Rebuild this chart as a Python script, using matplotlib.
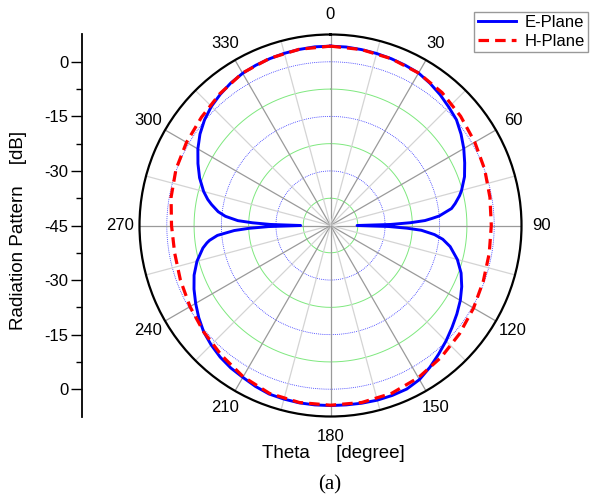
import numpy as np
import matplotlib
matplotlib.use("Agg")
import matplotlib.pyplot as plt

plt.rcParams['font.family'] = ['Liberation Sans', 'DejaVu Sans']

# ---- data, angle in degrees, level in dB ----
e_theta = [0, 5, 10, 15, 20, 25, 30, 35, 40, 45, 50, 55, 60, 65, 70, 75, 77,
           80, 82, 85, 86, 87, 88, 89, 90,
           91, 92, 93, 95, 97, 100, 105, 110, 115, 120, 125, 130, 135, 140,
           145, 150, 155, 160, 165, 170, 175, 180,
           185, 190, 195, 200, 205, 210, 215, 220, 225, 230, 235, 240, 245,
           250, 255, 260, 262, 263, 265, 267, 268, 269, 270,
           271, 272, 273, 275, 277, 280, 282, 285, 290, 295, 300, 305, 310,
           315, 320, 325, 330, 335, 340, 345, 350, 355, 360]
e_db = [4.3, 4.25, 4.1, 3.95, 3.8, 3.6, 3.4, 2.7, 1.9, 1.0, 0.2, -1.2, -2.7,
        -4.3, -5.8, -7.7, -8.6, -10.2, -11.4, -15.0, -17.0, -19.0, -23.0,
        -28.5, -37.7,
        -29.0, -24.0, -20.0, -16.3, -13.9, -11.6, -8.9, -6.8, -5.2, -3.8,
        -2.6, -1.4, -0.1, 1.2, 2.6, 3.9, 4.6, 4.7, 4.7, 4.6, 4.5, 4.5,
        4.5, 4.5, 4.4, 4.3, 3.8, 3.2, 2.8, 2.2, 1.4, 0.5, -0.8, -2.2, -3.6,
        -5.1, -7.0, -9.4, -10.7, -11.5, -13.8, -18.5, -22.5, -28.0, -36.8,
        -28.5, -23.5, -19.5, -16.0, -13.9, -11.8, -10.5, -8.9, -6.7, -4.8,
        -2.9, -1.2, 0.2, 1.3, 2.1, 2.8, 3.3, 3.6, 3.8, 4.0, 4.15, 4.3, 4.3]

h_theta = [0, 10, 20, 30, 40, 50, 60, 70, 80, 90, 100, 110, 120, 130, 140,
           150, 160, 170, 180, 190, 200, 210, 220, 230, 240, 250, 260, 270,
           280, 290, 300, 310, 320, 330, 340, 350, 360]
h_db = [4.3, 4.1, 3.8, 3.4, 2.7, 1.7, 0.8, 0.1, -0.5, -0.8, -0.7, -0.3, 0.4,
        1.3, 2.3, 3.3, 4.1, 4.4, 4.4, 4.4, 4.1, 3.0, 1.6, 0.5, -0.4, -1.1,
        -1.5, -1.3, -0.5, 0.2, 0.7, 1.3, 2.3, 3.4, 3.9, 4.2, 4.3]

theta_labels = [0, 30, 60, 90, 120, 150, 180, 210, 240, 270, 300, 330]
r_min, r_max = -45.0, 7.5
major_rings = [-30, -15, 0]
minor_rings = [-37.5, -22.5, -7.5]
side_ticks = [-45, -30, -15, 0, 15, 30, 45]
side_labels = ['0', '-15', '-30', '-45', '-30', '-15', '0']
side_minor = [-37.5, -22.5, -7.5, 7.5, 22.5, 37.5]

W, H = 592, 503
fig = plt.figure(figsize=(W / 100, H / 100), dpi=100)

cx, cy, R = 330.5, 225.5, 191.0
ax = fig.add_axes([(cx - R) / W, (H - cy - R) / H, 2 * R / W, 2 * R / H],
                  projection='polar')
ax.set_theta_zero_location('N')
ax.set_theta_direction(-1)
ax.set_rlim(r_min, r_max)
ax.grid(False)
ax.set_yticks([])
ax.set_xticks(np.deg2rad(np.arange(0, 360, 30)))
ax.set_xticks(np.deg2rad(np.arange(15, 360, 30)), minor=True)
ax.set_xticklabels([])
ax.tick_params(axis='x', which='major', direction='in', length=6, width=1.2,
               color='black', pad=0)
ax.tick_params(axis='x', which='minor', direction='in', length=5, width=1.0,
               color='black')
ax.spines['polar'].set_linewidth(1.6)
ax.spines['polar'].set_color('black')

circ = np.linspace(0, 2 * np.pi, 721)
for r in minor_rings:
    ax.plot(circ, np.full_like(circ, r), color='#7ee87e', lw=0.7, zorder=1)
for r in major_rings:
    ax.plot(circ, np.full_like(circ, r), color='#3030ff', lw=0.6,
            linestyle=(0, (1, 1.3)), zorder=1)
for a in range(0, 360, 15):
    col = '#9a9a9a' if a % 30 == 0 else '#d4d4d4'
    ax.plot([np.deg2rad(a)] * 2, [r_min, r_max], color=col, lw=0.9, zorder=1)

ax.plot(np.deg2rad(e_theta), e_db, color='#0000ff', lw=2.1, zorder=3,
        label='E-Plane', solid_joinstyle='round')
ax.plot(np.deg2rad(h_theta), h_db, color='#ff0000', lw=2.3, zorder=4,
        linestyle=(0, (3.3, 1.9)), label='H-Plane')

for t in theta_labels:
    ax.text(np.deg2rad(t), 12.9, str(t), ha='center', va='center',
            fontsize=12, clip_on=False)

# side radial axis
ax2 = fig.add_axes([81.5 / W, (H - cy - R) / H, 0.001, 2 * R / H])
ax2.set_facecolor('none')
ax2.set_ylim(-52.5, 52.5)
for s in ['top', 'right', 'bottom']:
    ax2.spines[s].set_visible(False)
ax2.spines['left'].set_linewidth(1.3)
ax2.set_xticks([])
ax2.set_yticks(side_ticks)
ax2.set_yticklabels(side_labels, fontsize=12)
ax2.set_yticks(side_minor, minor=True)
ax2.tick_params(axis='y', which='major', length=8, width=1.0, pad=1.5)
ax2.tick_params(axis='y', which='minor', length=4, width=1.0)

fig.text(19 / W, 1 - 230 / H, 'Radiation Pattern    [dB]', rotation=90,
         ha='center', va='center', fontsize=13.5)
fig.text(333 / W, 1 - 453 / H, 'Theta     [degree]', ha='center',
         va='center', fontsize=13.5)
fig.text(330 / W, 1 - 485 / H, '(a)', ha='center', va='center', fontsize=15,
         family='Liberation Serif')

leg = ax.legend(loc='upper left', bbox_to_anchor=(474 / W, 1 - 11.5 / H),
                bbox_transform=fig.transFigure, fancybox=False, frameon=True,
                edgecolor='#808080', fontsize=12, handlelength=2.3,
                borderpad=0.22, labelspacing=0.2, handletextpad=0.5,
                borderaxespad=0)
leg.get_frame().set_linewidth(1.0)

fig.savefig('out.png', dpi=100)
